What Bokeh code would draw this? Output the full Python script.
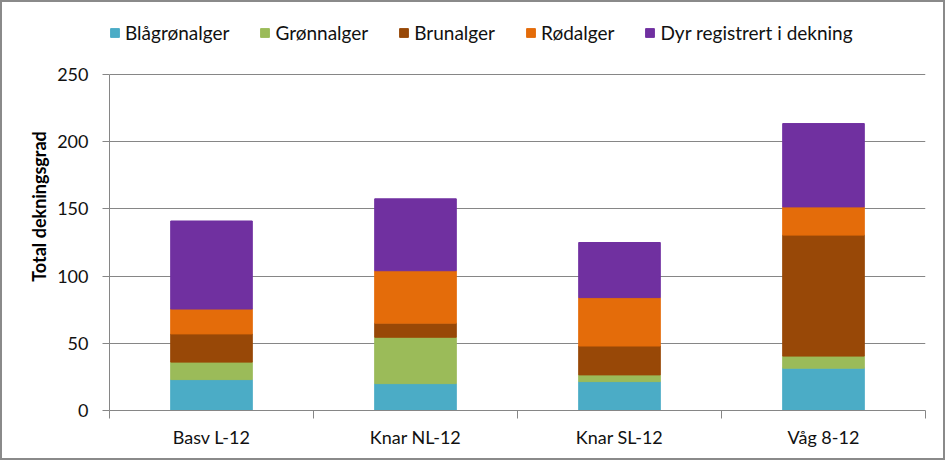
from bokeh.plotting import figure
from bokeh.models import (Range1d, FixedTicker, Legend, LegendItem, ColumnDataSource)
from bokeh.embed import file_html
from bokeh.resources import INLINE

# ---- data ----
sites = ["Basv L-12", "Knar NL-12", "Knar SL-12", "Våg 8-12"]
series = ["Blågrønalger", "Grønnalger", "Brunalger", "Rødalger", "Dyr registrert i dekning"]
blagronalger = [23, 20, 21.5, 31.5]
gronnalger = [13, 34.5, 5, 9]
brunalger = [21, 10.5, 21.5, 90]
rodalger = [18.5, 39, 36, 21]
dyr = [65.5, 53.5, 41, 62]
y_ticks = [0, 50, 100, 150, 200, 250]

colors = ["#4BACC6", "#9BBB59", "#984807", "#E46C0A", "#7030A0"]
FONT = "Lato"
GRID = "#868686"

n = len(sites)
centers = [i + 0.5 for i in range(n)]
bounds = list(range(n + 1))
y_max = y_ticks[-1]

# layout (pixels): plot frame runs from the top of the canvas so the legend can sit inside it;
# the value axis itself only spans 0..y_max.
H, W = 460, 945
BOTTOM, TOP_OF_AXIS = 52, 72
frame_h = H - BOTTOM
y_end = y_max * frame_h / (frame_h - TOP_OF_AXIS)

keys = ["s0", "s1", "s2", "s3", "s4"]
source = ColumnDataSource(dict(x=centers, site=sites, s0=blagronalger, s1=gronnalger,
                               s2=brunalger, s3=rodalger, s4=dyr))

p = figure(width=W, height=H,
           x_range=Range1d(0, n), y_range=Range1d(0, y_end),
           output_backend="svg", toolbar_location=None,
           min_border_left=107, min_border_right=22, min_border_top=0, min_border_bottom=BOTTOM)
p.styles = {"border": "2px solid #8a8a8a"}
p.outline_line_color = None
p.background_fill_color = "white"
p.border_fill_color = "white"

renderers = p.vbar_stack(keys, x="x", width=0.4, color=colors, source=source)

# grid
p.xgrid.grid_line_color = None
p.ygrid.grid_line_color = GRID
p.ygrid.grid_line_width = 1
p.ygrid.ticker = FixedTicker(ticks=y_ticks)

# y axis
ya = p.yaxis[0]
ya.ticker = FixedTicker(ticks=y_ticks)
ya.bounds = (0, y_max)
ya.axis_line_color = GRID
ya.major_tick_line_color = GRID
ya.major_tick_in = 0
ya.major_tick_out = 7
ya.minor_tick_line_color = None
ya.major_label_text_font = FONT
ya.major_label_text_font_size = "18px"
ya.major_label_text_color = "#111111"
ya.major_label_standoff = 14
ya.axis_label = "Total dekningsgrad"
ya.axis_label_text_font = FONT
ya.axis_label_text_font_size = "18px"
ya.axis_label_text_font_style = "bold"
ya.axis_label_text_color = "#000000"
ya.axis_label_standoff = 4

# x axis: category labels at centres, boundary tick marks as minor ticks
xa = p.xaxis[0]
xa.ticker = FixedTicker(ticks=centers, minor_ticks=bounds)
xa.major_label_overrides = {c: s for c, s in zip(centers, sites)}
xa.axis_line_color = GRID
xa.major_tick_line_color = None
xa.major_tick_in = 0
xa.major_tick_out = 0
xa.minor_tick_line_color = GRID
xa.minor_tick_in = 0
xa.minor_tick_out = 8
xa.major_label_text_font = FONT
xa.major_label_text_font_size = "18px"
xa.major_label_text_color = "#111111"
xa.major_label_standoff = 7

# legend (inside the frame, above the value axis)
items = [LegendItem(label=s, renderers=[r]) for s, r in zip(series, renderers)]
legend = Legend(items=items, orientation="horizontal", location=(0, frame_h - 42))
legend.label_text_font = FONT
legend.label_text_font_size = "19px"
legend.label_text_color = "#111111"
legend.glyph_width = 11
legend.glyph_height = 11
legend.label_standoff = 5
legend.spacing = 30
legend.padding = 0
legend.margin = 0
legend.border_line_color = None
legend.background_fill_alpha = 0
p.add_layout(legend)

open("out.html", "w").write(file_html(p, INLINE))
